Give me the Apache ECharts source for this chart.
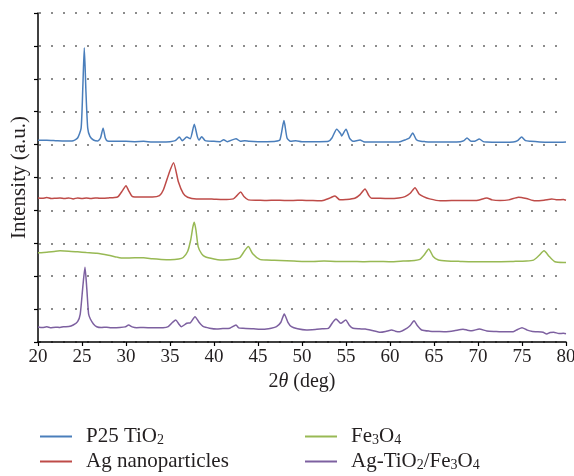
<!DOCTYPE html>
<html><head><meta charset="utf-8">
<script src="https://cdn.jsdelivr.net/npm/echarts@6/dist/echarts.min.js"></script>
<style>html,body{margin:0;padding:0;background:#fff}#c{width:574px;height:476px}</style>
</head><body><div id="c"></div>
<script>
// X ticks / axis
const xTicks = [20,25,30,35,40,45,50,55,60,65,70,75,80];
const seriesNames = ['P25 TiO2','Ag nanoparticles','Fe3O4','Ag-TiO2/Fe3O4'];
// [2theta, intensity (offset, a.u.)]
const p25 = [[20,6.13],[21,6.13],[22,6.12],[23,6.11],[24,6.12],[24.5,6.2],[24.9,6.5],[25.1,7.8],[25.26,8.94],[25.45,7.6],[25.65,6.5],[25.9,6.25],[26.3,6.14],[26.8,6.11],[27.1,6.2],[27.4,6.5],[27.65,6.2],[27.9,6.11],[29,6.1],[30,6.1],[31,6.09],[32,6.1],[33,6.08],[34,6.08],[35,6.09],[35.6,6.12],[36.06,6.23],[36.4,6.12],[36.9,6.23],[37.3,6.18],[37.76,6.62],[38.1,6.25],[38.3,6.14],[38.6,6.24],[39,6.12],[40,6.1],[40.7,6.09],[41.1,6.15],[41.5,6.09],[42.5,6.18],[43,6.1],[43.5,6.12],[44,6.1],[45,6.09],[46,6.09],[47,6.1],[47.5,6.15],[47.95,6.73],[48.3,6.2],[48.7,6.1],[49.3,6.12],[50,6.09],[51,6.09],[52,6.09],[53,6.1],[53.4,6.2],[53.94,6.47],[54.4,6.33],[54.5,6.26],[55.0,6.47],[55.4,6.2],[55.8,6.1],[56.6,6.14],[57,6.09],[58,6.08],[59,6.08],[60,6.08],[61,6.08],[61.8,6.15],[62.2,6.2],[62.58,6.35],[63,6.15],[63.5,6.1],[64,6.09],[65,6.08],[66,6.08],[67,6.08],[68,6.09],[68.4,6.12],[68.75,6.2],[69.2,6.1],[69.6,6.1],[70.15,6.17],[70.6,6.09],[71,6.08],[72,6.07],[73,6.07],[74,6.08],[74.5,6.12],[74.96,6.23],[75.4,6.12],[76,6.1],[77,6.08],[78,6.07],[79,6.07],[80,6.08]];
const agNano = [[20,4.38],[20.5,4.37],[21,4.39],[21.5,4.36],[22,4.37],[22.5,4.38],[23,4.36],[23.5,4.38],[24,4.35],[24.5,4.38],[25,4.36],[25.5,4.38],[26,4.36],[26.5,4.38],[27,4.37],[28,4.38],[28.7,4.39],[29.1,4.42],[29.6,4.6],[30.0,4.75],[30.3,4.6],[30.65,4.44],[31,4.41],[32,4.41],[33,4.41],[33.8,4.45],[34.24,4.62],[34.9,5.14],[35.4,5.45],[35.95,4.87],[36.5,4.52],[37,4.4],[38,4.35],[39,4.35],[40,4.34],[41,4.33],[42.2,4.35],[42.6,4.45],[43.03,4.56],[43.4,4.42],[43.9,4.32],[45,4.31],[46,4.3],[47,4.31],[48,4.3],[49,4.3],[50,4.31],[51,4.3],[52,4.29],[52.5,4.31],[53.2,4.38],[53.75,4.44],[54.3,4.32],[55,4.33],[56,4.37],[56.6,4.48],[57.16,4.65],[57.6,4.45],[57.9,4.37],[58.9,4.37],[60,4.36],[61,4.38],[61.7,4.42],[62.3,4.52],[62.84,4.69],[63.3,4.5],[63.8,4.42],[64.5,4.35],[65.7,4.29],[67,4.3],[68,4.3],[69,4.3],[70,4.31],[71,4.38],[71.6,4.32],[72.5,4.3],[73.5,4.32],[74.6,4.4],[75.5,4.36],[76.5,4.29],[77.5,4.31],[78.4,4.35],[79,4.32],[79.7,4.33],[80,4.31]];
const fe3o4 = [[20,2.71],[21,2.73],[22,2.76],[22.5,2.77],[23.5,2.76],[24.5,2.74],[25.5,2.72],[26.7,2.7],[28,2.64],[29,2.58],[29.7,2.55],[31,2.56],[32,2.56],[33,2.53],[34,2.51],[35,2.5],[36,2.52],[36.5,2.57],[37.0,2.75],[37.35,3.1],[37.6,3.5],[37.76,3.64],[37.95,3.4],[38.2,2.9],[38.6,2.68],[39.0,2.59],[40,2.52],[40.7,2.49],[41.5,2.5],[42.5,2.53],[42.95,2.57],[43.5,2.78],[43.9,2.9],[44.4,2.68],[45.2,2.51],[46,2.49],[47.5,2.48],[49,2.46],[50,2.45],[51.3,2.45],[52.5,2.46],[54,2.45],[55.5,2.45],[57,2.44],[58.5,2.45],[60,2.44],[61.5,2.46],[62.8,2.48],[63.4,2.51],[63.9,2.65],[64.4,2.83],[64.9,2.6],[65.5,2.49],[66.5,2.46],[68,2.45],[70.2,2.44],[72,2.44],[74,2.45],[75.5,2.46],[76.3,2.49],[76.9,2.62],[77.5,2.77],[78.1,2.6],[78.75,2.44],[79.7,2.42],[80,2.42]];
const agTiFe = [[20,0.456],[20.5,0.44],[21,0.46],[21.4,0.435],[22,0.45],[22.5,0.44],[22.9,0.465],[23.5,0.47],[24.0,0.517],[24.5,0.62],[24.8,0.85],[25.1,1.7],[25.34,2.27],[25.55,1.6],[25.75,0.85],[25.95,0.7],[26.3,0.55],[26.67,0.465],[27.2,0.44],[27.8,0.45],[28.3,0.43],[28.75,0.435],[29.3,0.44],[29.9,0.46],[30.3,0.517],[30.7,0.46],[31.2,0.435],[32,0.44],[33,0.43],[34.2,0.435],[34.8,0.47],[35.3,0.6],[35.65,0.67],[36.0,0.55],[36.3,0.465],[36.9,0.57],[37.3,0.58],[37.84,0.77],[38.3,0.6],[38.8,0.465],[39.5,0.42],[40.3,0.395],[41,0.41],[41.8,0.42],[42.5,0.517],[42.8,0.43],[43.3,0.416],[44.5,0.4],[45.6,0.386],[46.5,0.42],[47.1,0.465],[47.6,0.6],[47.98,0.851],[48.4,0.6],[48.8,0.465],[49.5,0.4],[50.5,0.365],[51.5,0.38],[52.3,0.4],[53.0,0.416],[53.5,0.6],[53.86,0.7],[54.4,0.568],[54.97,0.67],[55.4,0.5],[55.8,0.416],[56.5,0.4],[57.2,0.395],[58,0.35],[58.9,0.295],[59.5,0.32],[60.2,0.365],[60.6,0.33],[61.1,0.313],[61.9,0.416],[62.3,0.5],[62.73,0.647],[63.1,0.5],[63.6,0.365],[64.5,0.33],[65.5,0.32],[66.4,0.313],[67.3,0.34],[68.3,0.386],[68.8,0.36],[69.3,0.343],[70.15,0.395],[71.0,0.334],[72,0.32],[73,0.31],[74.0,0.313],[74.5,0.38],[75.0,0.435],[75.6,0.36],[76.2,0.32],[76.7,0.313],[77.4,0.295],[77.8,0.243],[78.2,0.29],[78.6,0.295],[79.2,0.26],[79.7,0.264],[80,0.25]];

const colors = ['#4a7ebb','#be4b48','#98b954','#7d60a0'];
const serif = '"Liberation Serif", "DejaVu Serif", serif';
const legendFormat = {
  'P25 TiO2': 'P25 TiO{s|2}',
  'Ag nanoparticles': 'Ag nanoparticles',
  'Fe3O4': 'Fe{s|3}O{s|4}',
  'Ag-TiO2/Fe3O4': 'Ag-TiO{s|2}/Fe{s|3}O{s|4}'
};
const legendText = {
  fontFamily: serif, fontSize: 21, color: '#231f20', padding: [0, 0, 0, 9],
  rich: { s: { fontFamily: serif, fontSize: 14, color: '#231f20', verticalAlign: 'bottom', lineHeight: 21, padding: [6,0,0,0] } }
};
const legendPos = [[40, 426], [40, 451], [305, 426], [305, 451]];
const chart = echarts.init(document.getElementById('c'), null, {renderer:'canvas'});
const dataSets = [p25, agNano, fe3o4, agTiFe];
chart.setOption({
  animation: false,
  color: colors,
  grid: { left: 38, right: 8, top: 13, bottom: 134, containLabel: false, outerBoundsMode: 'none' },
  legend: seriesNames.map((n, i) => ({
    data: [n], orient: 'horizontal', left: legendPos[i][0], top: legendPos[i][1],
    icon: 'rect', itemWidth: 32, itemHeight: 2, itemGap: 0, padding: 0,
    formatter: nm => legendFormat[nm], textStyle: legendText
  })),
  xAxis: {
    type: 'value', min: xTicks[0], max: xTicks[xTicks.length-1], interval: 5,
    name: '2{i|θ} (deg)', nameLocation: 'middle', nameGap: 24,
    nameTextStyle: { fontFamily: serif, fontSize: 20, color: '#231f20', rich: { i: { fontFamily: serif, fontSize: 20, fontStyle: 'italic', color: '#231f20' } } },
    axisLine: { show: true, lineStyle: { color: '#000', width: 1.5 } },
    axisTick: { show: true, length: 4, lineStyle: { color: '#000', width: 1.2 } },
    axisLabel: { fontFamily: serif, fontSize: 19, color: '#231f20', margin: 6 },
    splitLine: { show: false }
  },
  yAxis: {
    type: 'value', min: 0, max: 10, interval: 1,
    name: 'Intensity (a.u.)', nameLocation: 'middle', nameGap: 8,
    nameTextStyle: { fontFamily: serif, fontSize: 21, color: '#231f20' },
    axisLine: { show: true, lineStyle: { color: '#000', width: 1.5 } },
    axisTick: { show: true, length: 4, lineStyle: { color: '#000', width: 1.2 } },
    axisLabel: { show: false },
    splitLine: { show: true, lineStyle: { color: '#8c8c8c', width: 2, type: [2, 10], dashOffset: 11 } }
  },
  series: dataSets.map((d, i) => ({
    name: seriesNames[i], type: 'line', data: d, symbol: 'none', smooth: 0.2,
    lineStyle: { width: 1.5, color: colors[i] }, itemStyle: { color: colors[i] }
  }))
});
</script></body></html>
